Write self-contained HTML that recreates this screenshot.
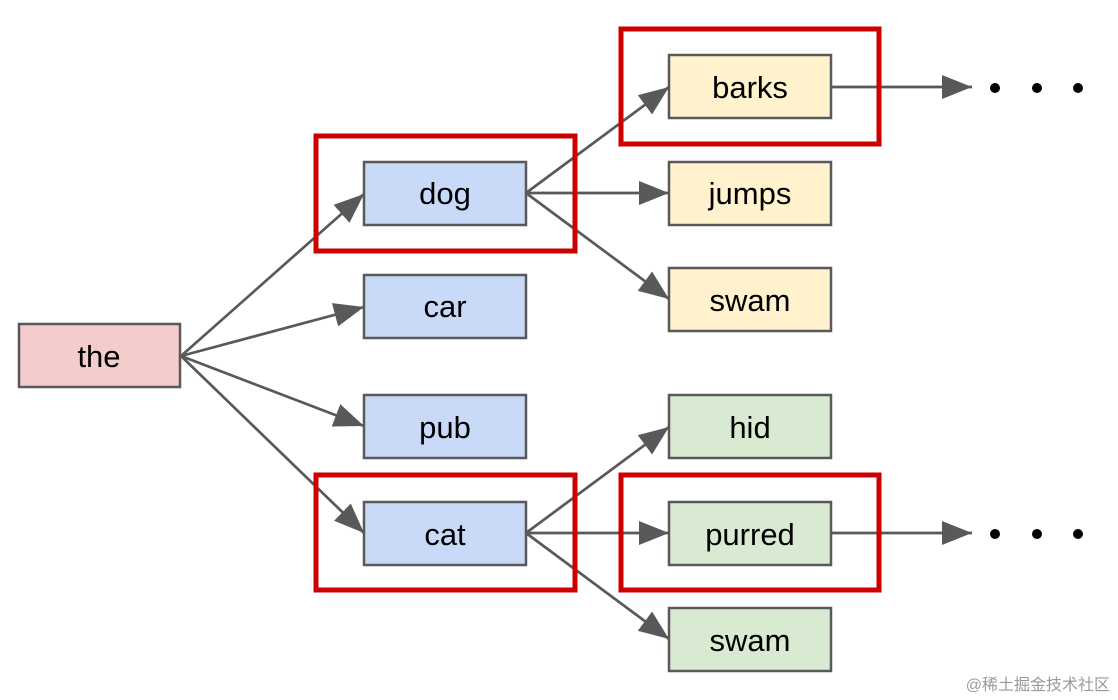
<!DOCTYPE html>
<html><head><meta charset="utf-8"><style>
html,body{margin:0;padding:0;background:#fff;}
svg{display:block;}
text{font-family:"Liberation Sans",Arial,sans-serif;font-size:31px;fill:#000;}
</style></head><body>
<svg width="1118" height="700" viewBox="0 0 1118 700" xmlns="http://www.w3.org/2000/svg">
<defs>
<marker id="b" viewBox="0 0 30 24" refX="30" refY="12" markerWidth="30" markerHeight="24" markerUnits="userSpaceOnUse" orient="auto">
<path d="M0,0 L30,12 L0,24 z" fill="#595959"/>
</marker>
</defs>
<g stroke="#595959" stroke-width="2.7" fill="none" marker-end="url(#b)">
<line x1="181" y1="356" x2="364" y2="194"/>
<line x1="181" y1="356" x2="364" y2="307"/>
<line x1="181" y1="356" x2="364" y2="426"/>
<line x1="181" y1="356" x2="364" y2="533"/>
<line x1="526" y1="193" x2="669" y2="87"/>
<line x1="526" y1="193" x2="669" y2="193"/>
<line x1="526" y1="193" x2="669" y2="299"/>
<line x1="526" y1="533" x2="669" y2="427"/>
<line x1="526" y1="533" x2="669" y2="533"/>
<line x1="526" y1="533" x2="669" y2="639"/>
<line x1="831" y1="87" x2="972" y2="87"/>
<line x1="831" y1="533" x2="972" y2="533"/>
</g>
<g stroke="#595959" stroke-width="2.5">
<rect x="19" y="324" width="161" height="63" fill="#f4cccc"/>
<rect x="364" y="162" width="162" height="63" fill="#c9daf8"/>
<rect x="364" y="275" width="162" height="63" fill="#c9daf8"/>
<rect x="364" y="395" width="162" height="63" fill="#c9daf8"/>
<rect x="364" y="502" width="162" height="63" fill="#c9daf8"/>
<rect x="669" y="55" width="162" height="63" fill="#fff2cc"/>
<rect x="669" y="162" width="162" height="63" fill="#fff2cc"/>
<rect x="669" y="268" width="162" height="63" fill="#fff2cc"/>
<rect x="669" y="395" width="162" height="63" fill="#d9ead3"/>
<rect x="669" y="502" width="162" height="63" fill="#d9ead3"/>
<rect x="669" y="608" width="162" height="63" fill="#d9ead3"/>
</g>
<g stroke="#cc0000" stroke-width="5" fill="none">
<rect x="316" y="136" width="259" height="115"/>
<rect x="621" y="29" width="258" height="115"/>
<rect x="316" y="475" width="259" height="115"/>
<rect x="621" y="475" width="258" height="115"/>
</g>
<g text-anchor="middle">
<text x="99" y="367">the</text>
<text x="445" y="204">dog</text>
<text x="445" y="317">car</text>
<text x="445" y="438">pub</text>
<text x="445" y="545">cat</text>
<text x="750" y="98">barks</text>
<text x="750" y="204">jumps</text>
<text x="750" y="311">swam</text>
<text x="750" y="438">hid</text>
<text x="750" y="545">purred</text>
<text x="750" y="651">swam</text>
</g>
<g fill="#000">
<circle cx="995" cy="88" r="5"/><circle cx="1037" cy="88" r="5"/><circle cx="1078" cy="88" r="5"/>
<circle cx="995" cy="534" r="5"/><circle cx="1037" cy="534" r="5"/><circle cx="1078" cy="534" r="5"/>
</g>
<text x="1110" y="690" text-anchor="end" style="font-size:16px;fill:#9a9a9a;font-family:'Liberation Sans','Noto Sans CJK SC',sans-serif">@稀土掘金技术社区</text>
</svg>
</body></html>
